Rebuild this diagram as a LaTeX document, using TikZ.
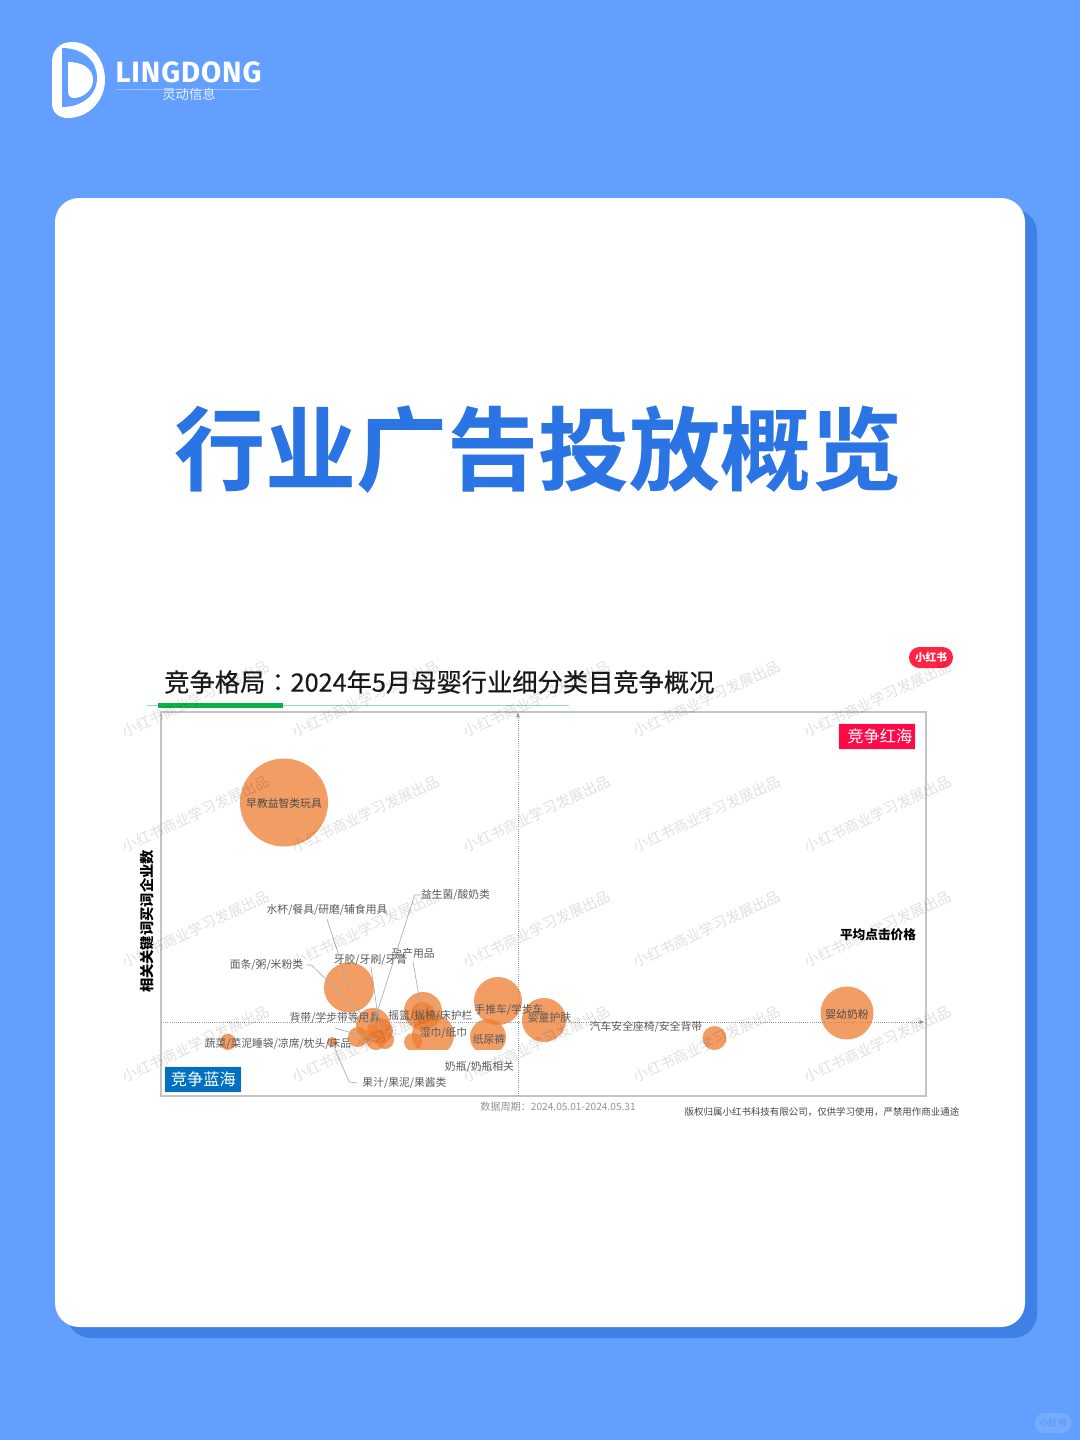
\documentclass[tikz,border=0pt]{standalone}
\usepackage{fontspec}
\setmainfont{Noto Sans CJK SC}
\newfontfamily\logofont[LetterSpace=3]{Fira Sans}
\newfontfamily\headfont[FakeBold=0.2]{Noto Sans CJK SC Bold}
\newfontfamily\titlefont[FakeBold=0.35]{Noto Sans CJK SC}
\newfontfamily\colonfont[FakeBold=0.35]{Noto Sans CJK TC}
\usetikzlibrary{arrows.meta}
\definecolor{pagebg}{HTML}{629FFE}
\definecolor{cardshadow}{HTML}{3F80E6}
\definecolor{headblue}{HTML}{2A75E3}
\definecolor{bub}{HTML}{ED7D31}
\definecolor{framegrey}{HTML}{C4C4C4}
\definecolor{xhsred}{HTML}{FF2442}
\definecolor{redbox}{HTML}{FF0A46}
\definecolor{bluebox}{HTML}{0070C0}
\definecolor{titlegreen}{HTML}{0DB14B}
\definecolor{lbl}{HTML}{5A5A5A}
\tikzset{
  bubble/.style={circle,fill=bub,fill opacity=.75,draw=none,inner sep=0pt,minimum size=#1*1.5pt},
  catlabel/.style={inner sep=0pt,yshift=-.75pt,text=lbl,font=\fontsize{8.1}{9}\selectfont},
  inlabel/.style={inner sep=0pt,yshift=-.4pt,text=lbl!85!black,font=\fontsize{8.1}{9}\selectfont},
  leader/.style={draw=black!32,line width=.5pt},
  axisline/.style={draw=black!40,densely dotted,line width=.6pt,-{Latex[length=4pt,width=3pt]}},
  quadrant/.style={inner sep=0pt,minimum width=57.75pt,minimum height=19.5pt,text=white,draw=white!70!pink,line width=.4pt,font=\fontsize{12.2}{14}\selectfont},
  watermark/.style={inner sep=0pt,rotate=25,text=black,text opacity=.12,font=\fontsize{10.9}{12}\selectfont}
}
\begin{document}
\begin{tikzpicture}[x=.75pt,y=-.75pt]
\useasboundingbox (0,0) rectangle (1080,1440);
\fill[pagebg] (0,0) rectangle (1080,1440);
% card
\fill[cardshadow,rounded corners=18pt] (67,209) rectangle (1037,1338);
\fill[white,rounded corners=18pt] (55,198) rectangle (1025,1327);
% logo
\fill[white] (52,62) .. controls (52,50) and (60,42) .. (72,42) .. controls (92,42) and (105,60) .. (105,80) .. controls (105,101) and (88,118) .. (68,118) .. controls (58,118) and (52,112) .. (52,103) -- cycle;
\fill[pagebg] (62,48) .. controls (82,48) and (97,60) .. (97,78) .. controls (97,95) and (82,107) .. (62,107) -- cycle;
\fill[white] (68,62) .. controls (82,62) and (93,68) .. (93,80) .. controls (93,91) and (82,98) .. (74,98) .. controls (70,98) and (68,95) .. (68,91) -- cycle;
\node[inner sep=0pt,text=white,font=\logofont\bfseries\fontsize{22}{24}\selectfont] (logoname) at (188.5,72) {LINGDONG};
\draw[white!35!pagebg,line width=.4pt] (117,89) -- (260,89);
\node[inner sep=0pt,text=white!85!pagebg,font=\fontsize{10}{12}\selectfont] (logocn) at (189,94.5) {灵动信息};
% heading
\node[inner sep=0pt,text=headblue,font=\headfont\fontsize{68.2}{72}\selectfont] (heading) at (538,449) {行业广告投放概览};
% chart title
\node[anchor=west,inner sep=0pt,text=black!90,font=\titlefont\fontsize{18.95}{22}\selectfont] (charttitle) at (164,682) {竞争格局{\colonfont ：}2024年5月母婴行业细分类目竞争概况};
\draw[titlegreen!45,line width=.6pt] (147,705.5) -- (569,705.5);
\fill[titlegreen] (158,703) rectangle (283,708);
% badge
\node[inner sep=0pt,fill=xhsred,rounded corners=7.8pt,minimum width=33pt,minimum height=15.75pt,text=white,font=\bfseries\fontsize{8}{9}\selectfont] (badge) at (931,657.5) {小红书};
% frame
\draw[framegrey,line width=1pt] (161,712) rectangle (926,1096);
\coordinate (vbot) at (518,1096);
\coordinate (vtop) at (518,712);
\coordinate (hleft) at (161,1022);
\coordinate (hright) at (925,1022);
\draw[axisline] (vbot) -- (vtop);
\draw[axisline] (hleft) -- (hright);
% bubbles
\begin{scope}
\clip (161,712) rectangle (926,1049);
\node[bubble=44] (zaojiao) at (284,802.5) {};
\node[bubble=25] (miantiao) at (349,987.5) {};
\node[bubble=17] (b1) at (373,1025) {};
\node[bubble=10] (b2) at (358,1037) {};
\node[bubble=10] (b3) at (376,1040) {};
\node[bubble=9] (b4) at (385,1040) {};
\node[bubble=13] (b5) at (380,1031) {};
\node[bubble=5] (b6) at (332,1042) {};
\node[bubble=8] (shucai) at (228,1042) {};
\node[bubble=19] (yaolan) at (423,1011) {};
\node[bubble=11] (yunchan) at (422,1013) {};
\node[bubble=21] (shijin) at (433,1035) {};
\node[bubble=9] (b7) at (413,1042) {};
\node[bubble=24] (tuiche) at (498,1001) {};
\node[bubble=18] (niaoku) at (488,1037) {};
\node[bubble=22] (hufu) at (544,1020) {};
\node[bubble=12] (qiche) at (714.5,1038) {};
\node[bubble=26.5] (naifen) at (847,1013) {};
\end{scope}
% labels
\node[inlabel] (tzaojiao) at (284,803) {早教益智类玩具};
\node[catlabel] (tshuibei) at (327,909) {水杯/餐具/研磨/辅食用具};
\node[catlabel] (tyisheng) at (455.5,894) {益生菌/酸奶类};
\node[catlabel] (tyunchan) at (413,952) {孕产用品};
\node[catlabel] (tyagao) at (370.5,959) {牙胶/牙刷/牙膏};
\node[catlabel] (tmiantiao) at (266.5,964) {面条/粥/米粉类};
\node[catlabel] (tbeidai) at (335,1017) {背带/学步带等用具};
\node[catlabel] (tyaolan) at (430.5,1015) {摇篮/摇椅/床护栏};
\node[catlabel] (ttuiche) at (509,1009) {手推车/学步车};
\node[catlabel] (thufu) at (549.5,1016) {婴童护肤};
\node[catlabel] (tshijin) at (443.5,1032) {湿巾/纸巾};
\node[catlabel] (tniaoku) at (489,1038) {纸尿裤};
\node[catlabel] (tshucai) at (278,1043) {蔬菜/菜泥睡袋/凉席/枕头/床品};
\node[catlabel] (tnaiping) at (479.5,1066) {奶瓶/奶瓶相关};
\node[catlabel] (tguozhi) at (404.5,1082) {果汁/果泥/果酱类};
\node[catlabel] (tqiche) at (646,1026) {汽车安全座椅/安全背带};
\node[inlabel] (tnaifen) at (847,1014) {婴幼奶粉};
% leaders
\coordinate (s1) at (327,919);
\draw[leader] (s1) -- (miantiao.center);
\coordinate (s2) at (tmiantiao.east);
\draw[leader] (s2) ++(3,0) -- ++(5,0) -- (b1.center);
\coordinate (s3) at (tyisheng.west);
\draw[leader] (s3) -- ++(-6,0) -- (b1.center);
\coordinate (s4) at (371,967);
\draw[leader] (s4) -- (b5.center);
\coordinate (s5) at (413,962);
\draw[leader] (s5) -- (yunchan.center);
\coordinate (s6) at (335,1028);
\draw[leader] (s6) -- (b3.center);
\coordinate (s7) at (tguozhi.west);
\draw[leader] (s7) ++(-5,0) -- ++(-8,-1) -- (b6.center);
% axis titles
\node[inner sep=0pt,text=black,font=\bfseries\fontsize{9.5}{11}\selectfont] (tprice) at (878,934.7) {平均点击价格};
\node[inner sep=0pt,rotate=90,text=black,font=\bfseries\fontsize{10.7}{12}\selectfont] (tcount) at (147.5,921.5) {相关关键词买词企业数};
% quadrants
\node[quadrant,fill=redbox] (qred) at (876.5,736) {\hspace{5pt}竞争红海};
\node[quadrant,fill=bluebox] (qblue) at (203,1079) {\hspace{.5pt}竞争蓝海};
% footer
\node[inner sep=0pt,text=black!42,font=\fontsize{7.6}{9}\selectfont] (tperiod) at (558,1107) {数据周期：2024.05.01-2024.05.31};
\node[inner sep=0pt,text=black!72,font=\fontsize{7.1}{8}\selectfont] (tcopy) at (822,1112) {版权归属小红书科技有限公司，仅供学习使用，严禁用作商业通途};
% watermarks
\foreach \wy in {699,814,929,1044}
  \foreach \wx in {196,366,537,707,878}
    \node[watermark] (wm\wx\wy) at (\wx,\wy) {小红书商业学习发展出品};
% corner tag
\node[inner sep=0pt,fill=white,fill opacity=.13,text opacity=.25,text=headblue,rounded corners=7pt,minimum width=27pt,minimum height=15pt,font=\bfseries\fontsize{7}{8}\selectfont] (cornertag) at (1053,1423) {小红书};
\end{tikzpicture}
\end{document}
